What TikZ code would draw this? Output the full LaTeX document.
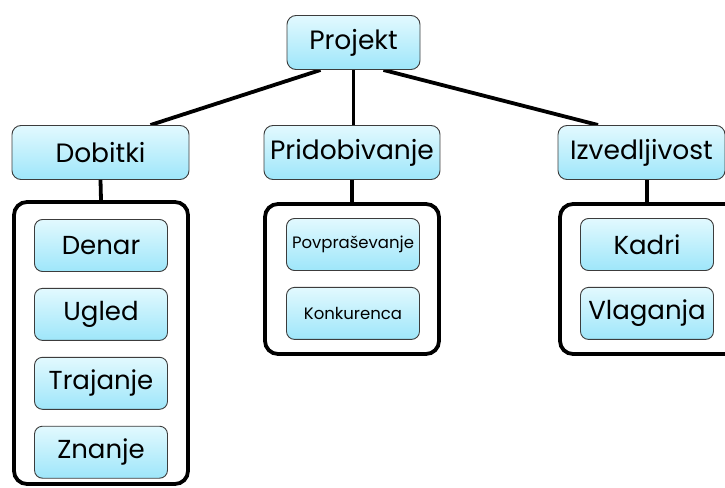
\documentclass[tikz,border=0pt]{standalone}
\usepackage{fontspec}
\setmainfont{Poppins}
\usetikzlibrary{positioning}

\definecolor{boxtop}{RGB}{226,249,254}
\definecolor{boxbot}{RGB}{158,230,250}
\definecolor{boxline}{RGB}{60,60,60}

\tikzset{
  topbox/.style={draw=boxline, line width=0.9pt, rounded corners=9pt,
    top color=boxtop, bottom color=boxbot, minimum height=54pt,
    inner sep=1pt, font=\fontsize{26.5}{29}\selectfont},
  item/.style={draw=boxline, line width=0.9pt, rounded corners=8pt,
    top color=boxtop, bottom color=boxbot, minimum width=133pt,
    minimum height=52pt, inner sep=1pt, font=\fontsize{26}{29}\selectfont},
  smallitem/.style={item, font=\fontsize{16.5}{19}\selectfont},
  group/.style={draw=black, line width=3.8pt, rounded corners=13pt,
    fill=white, minimum width=174pt},
  link/.style={draw=black, line width=3.8pt}
}

\begin{document}
\begin{tikzpicture}[x=1pt, y=-1pt, node distance=16pt]
    \useasboundingbox (0,0) rectangle (725,487);
    \clip (0,0) rectangle (725,487);
        % groups
        \node [group, minimum height=282pt] (dobgrp) at (101,343) {};
        \node [group, minimum height=150pt] (pridgrp) at (352,279) {};
        \node [group, minimum height=150pt, minimum width=180pt] (izvgrp) at (650,279) {};
        % links
        \draw [link] ([xshift=-33]353.5,70) -- ([xshift=50]100.5,125);
        \draw [link] (353.5,70) -- (353.5,125);
        \draw [link] ([xshift=30]353.5,70) -- ([xshift=-43]641,125);
        % top boxes
        \node [topbox, minimum width=133pt] (projekt) at (353.5,42.5) {Projekt};
        \node [topbox, minimum width=177pt] (dobitki) at (100.5,152.5) {Dobitki};
        \node [topbox, minimum width=176pt] (pridobivanje) at (352,152.5) {Pridobivanje};
        \node [topbox, minimum width=167pt] (izvedljivost) at (641.5,152.5) {Izvedljivost};
        \draw [link] (dobitki.south) -- (dobgrp.north);
        \draw [link] (pridobivanje.south) -- (pridgrp.north);
        \draw [link] ([xshift=-3]izvgrp.north) -- ([xshift=-3]izvgrp.north |- izvedljivost.south);
        % items
        \node [item] (denar) at (101,245.5) {Denar};
        \node [item, below=of denar] (ugled) {Ugled};
        \node [item, below=of ugled] (trajanje) {Trajanje};
        \node [item, below=of trajanje] (znanje) {Znanje};
        \node [smallitem] (povprasevanje) at (353,244.5) {Povpraševanje};
        \node [smallitem, below=of povprasevanje] (konkurenca) {Konkurenca};
        \node [item] (kadri) at (647,244.5) {Kadri};
        \node [item, below=of kadri] (vlaganja) {Vlaganja};
    \end{tikzpicture}
\end{document}
